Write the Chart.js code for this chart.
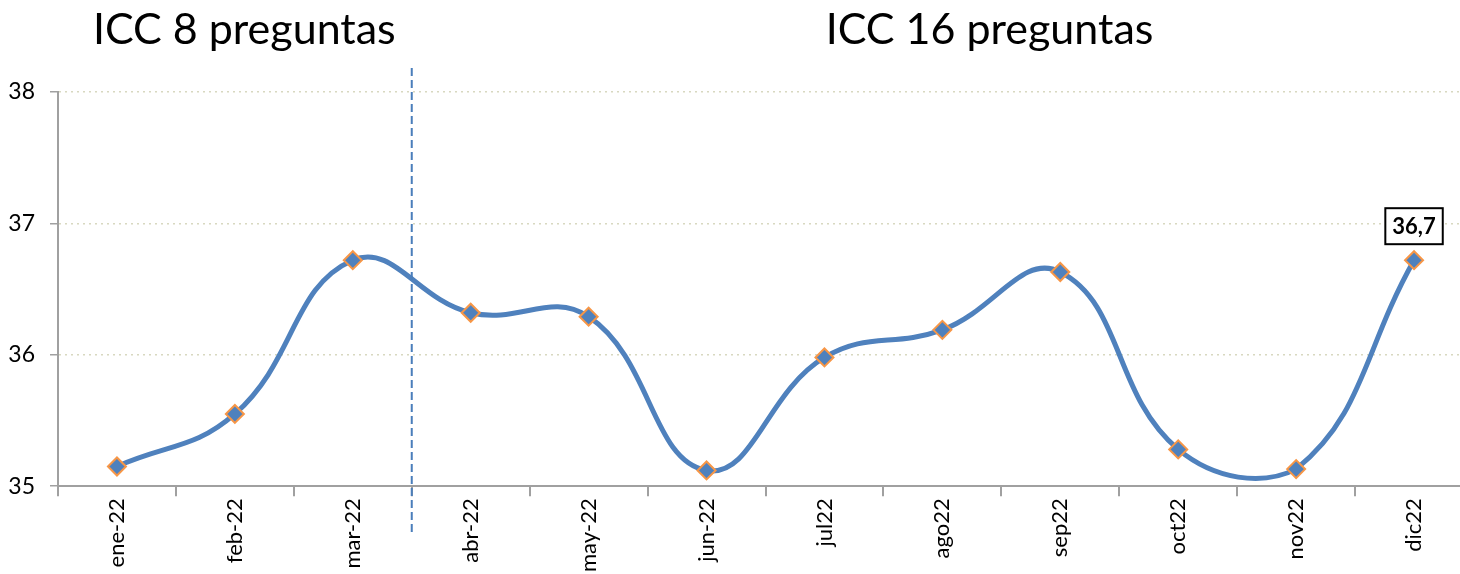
<!DOCTYPE html>
<html>
<head>
<meta charset="utf-8">
<script src="https://cdn.jsdelivr.net/npm/chart.js@4"></script>
<style>
  html, body { margin: 0; padding: 0; background: #fff; overflow: hidden; }
</style>
</head>
<body>
<canvas id="icc" width="1484" height="574"></canvas>
<script>
const months = ['ene-22', 'feb-22', 'mar-22', 'abr-22', 'may-22', 'jun-22',
  'jul22', 'ago22', 'sep22', 'oct22', 'nov22', 'dic22'];
const icc = [35.15, 35.55, 36.72, 36.32, 36.29, 35.12, 35.98, 36.19, 36.63, 35.28, 35.13, 36.72];
const headings = ['ICC 8 preguntas', 'ICC 16 preguntas'];
const lastLabel = '36,7';

const fontFam = 'Lato, "Open Sans", sans-serif';

// headings, the dashed split line and the box on the last point
const extras = {
  id: 'extras',
  afterDraw(chart) {
    const ctx = chart.ctx;
    const x = chart.scales.x, y = chart.scales.y;
    ctx.save();
    ctx.fillStyle = '#000';
    ctx.font = '43px ' + fontFam;
    ctx.textAlign = 'center';
    ctx.textBaseline = 'middle';
    ctx.fillText(headings[0], x.getPixelForValue(1.08), 30);
    ctx.fillText(headings[1], x.getPixelForValue(7.4), 30);

    const sx = x.getPixelForValue(2.5);
    ctx.strokeStyle = '#4a7ebb';
    ctx.lineWidth = 2;
    ctx.setLineDash([8, 4]);
    ctx.beginPath();
    ctx.moveTo(sx, 68);
    ctx.lineTo(sx, 533);
    ctx.stroke();
    ctx.setLineDash([]);

    const last = icc.length - 1;
    const px = x.getPixelForValue(last);
    const py = y.getPixelForValue(icc[last]) - 34;
    ctx.font = 'bold 22px ' + fontFam;
    const w = ctx.measureText(lastLabel).width + 14;
    ctx.fillStyle = '#fff';
    ctx.fillRect(px - w / 2, py - 18, w, 36);
    ctx.strokeStyle = '#000';
    ctx.lineWidth = 2;
    ctx.strokeRect(px - w / 2, py - 18, w, 36);
    ctx.fillStyle = '#000';
    ctx.fillText(lastLabel, px, py + 1);
    ctx.restore();
  }
};

new Chart(document.getElementById('icc'), {
  type: 'line',
  data: {
    labels: months,
    datasets: [{
      data: icc,
      borderColor: '#4f81bd',
      borderWidth: 5,
      tension: 0.43,
      pointStyle: 'rectRot',
      pointRadius: 9,
      pointHoverRadius: 9,
      pointBackgroundColor: '#4f81bd',
      pointBorderColor: '#f79646',
      pointBorderWidth: 2,
      clip: false
    }]
  },
  options: {
    responsive: false,
    animation: false,
    layout: { padding: { top: 92, left: 0, right: 0, bottom: 0 } },
    plugins: {
      legend: { display: false },
      tooltip: { enabled: false }
    },
    scales: {
      x: {
        offset: true,
        grid: {
          offset: true,
          drawOnChartArea: false,
          color: '#a0a0a0',
          lineWidth: 2,
          tickLength: 10
        },
        border: { color: '#a0a0a0', width: 2 },
        ticks: {
          color: '#000',
          font: { family: fontFam, size: 22 },
          minRotation: 90,
          maxRotation: 90,
          padding: 2
        }
      },
      y: {
        min: 35,
        max: 38,
        afterFit(scale) { scale.width = 58; },
        ticks: {
          stepSize: 1,
          color: '#000',
          font: { family: fontFam, size: 23 },
          padding: 15
        },
        grid: {
          color: '#d8d8c0',
          lineWidth: 1.5,
          tickLength: 8,
          tickColor: '#a0a0a0',
          tickBorderDash: []
        },
        border: { color: '#a0a0a0', width: 2, dash: [2, 4] }
      }
    }
  },
  plugins: [extras]
});
</script>
</body>
</html>
